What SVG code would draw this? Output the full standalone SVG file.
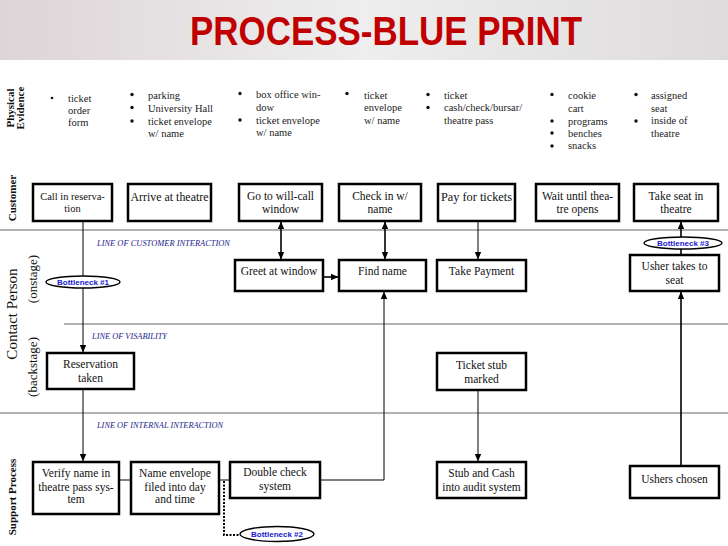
<svg xmlns="http://www.w3.org/2000/svg" width="728" height="546" viewBox="0 0 728 546">
<defs>
<linearGradient id="hdr" x1="0" y1="0" x2="1" y2="0">
<stop offset="0" stop-color="#ddd5d7"/>
<stop offset="0.5" stop-color="#eeeeee"/>
<stop offset="1" stop-color="#dedbdc"/>
</linearGradient>
<marker id="ah" markerWidth="8" markerHeight="8" refX="7" refY="4" orient="auto" markerUnits="userSpaceOnUse">
<path d="M0,0.8 L7.5,4 L0,7.2 Z" fill="#000"/>
</marker>
<marker id="as" markerWidth="8" markerHeight="8" refX="0.5" refY="4" orient="auto" markerUnits="userSpaceOnUse">
<path d="M7.5,0.8 L0,4 L7.5,7.2 Z" fill="#000"/>
</marker>
</defs>
<style>
.box{fill:#fff;stroke:#000;stroke-width:2.5}
.t{font-family:"Liberation Serif",serif;font-size:11.5px;text-anchor:middle;fill:#111}
.tl{font-size:12px}
.ts{font-size:10.5px}
.pe{font-family:"Liberation Serif",serif;font-size:10.5px;fill:#222}
.lane{stroke:#666;stroke-width:1}
.c{stroke:#000;stroke-width:1;fill:none}
.c2{stroke:#000;stroke-width:1.6;fill:none}
.lbl{font-family:"Liberation Serif",serif;font-style:italic;font-size:8px;fill:#1c1c8a}
.bn{fill:#fff;stroke:#000;stroke-width:1.4}
.bt{font-family:"Liberation Sans",sans-serif;font-weight:bold;font-size:8px;fill:#1a1ad0;text-anchor:middle}
.side{font-family:"Liberation Serif",serif;font-size:11px;font-weight:bold;fill:#111;text-anchor:middle}
.side2{font-family:"Liberation Serif",serif;fill:#111;text-anchor:middle}
</style>
<rect x="0" y="0" width="728" height="546" fill="#fff"/>
<rect x="0" y="0" width="728" height="60" fill="url(#hdr)"/>
<text x="386" y="45" font-family="Liberation Sans, sans-serif" font-weight="bold" font-size="40" fill="#c00000" text-anchor="middle" textLength="392" lengthAdjust="spacingAndGlyphs">PROCESS-BLUE PRINT</text>

<g id="lanes">
<line class="lane" x1="0" y1="230" x2="728" y2="230"/>
<line class="lane" x1="64" y1="324" x2="728" y2="324"/>
<line class="lane" x1="0" y1="413" x2="728" y2="413"/>
<text class="lbl" x="97" y="246" textLength="133" lengthAdjust="spacingAndGlyphs">LINE OF CUSTOMER INTERACTION</text>
<text class="lbl" x="92" y="339" textLength="75" lengthAdjust="spacingAndGlyphs">LINE OF VISABILITY</text>
<text class="lbl" x="97" y="428" textLength="126" lengthAdjust="spacingAndGlyphs">LINE OF INTERNAL INTERACTION</text>
</g>

<g id="side-labels">
<text class="side" transform="translate(14,108) rotate(-90)">Physical</text>
<text class="side" transform="translate(24,108) rotate(-90)">Evidence</text>
<text class="side" transform="translate(16,198) rotate(-90)">Customer</text>
<text class="side2" font-size="15" transform="translate(17,314) rotate(-90)">Contact Person</text>
<text class="side2" font-size="13" transform="translate(37,279) rotate(-90)">(onstage)</text>
<text class="side2" font-size="13" transform="translate(37,367) rotate(-90)">(backstage)</text>
<text class="side" transform="translate(16,497) rotate(-90)">Support Process</text>
</g>

<g id="physical-evidence">
<g fill="#111">
<circle cx="52" cy="98" r="1.3"/>
<circle cx="132" cy="94.5" r="1.7"/><circle cx="132" cy="107.5" r="1.7"/><circle cx="132" cy="121" r="1.7"/>
<circle cx="240" cy="93.5" r="1.7"/><circle cx="240" cy="120" r="1.7"/>
<circle cx="347" cy="93.5" r="1.7"/>
<circle cx="428" cy="94.5" r="1.7"/><circle cx="428" cy="107.5" r="1.7"/>
<circle cx="552" cy="94.5" r="1.7"/><circle cx="552" cy="121" r="1.7"/><circle cx="552" cy="133" r="1.7"/><circle cx="552" cy="146" r="1.7"/>
<circle cx="636" cy="94.5" r="1.7"/><circle cx="636" cy="121" r="1.7"/>
</g>
<text class="pe" x="68" y="102">ticket</text>
<text class="pe" x="68" y="114">order</text>
<text class="pe" x="68" y="126">form</text>
<text class="pe" x="148" y="98.5">parking</text>
<text class="pe" x="148" y="111.5">University Hall</text>
<text class="pe" x="148" y="124.5">ticket envelope</text>
<text class="pe" x="148" y="136.5">w/ name</text>
<text class="pe" x="256" y="98">box office win-</text>
<text class="pe" x="256" y="111">dow</text>
<text class="pe" x="256" y="124">ticket envelope</text>
<text class="pe" x="256" y="136">w/ name</text>
<text class="pe" x="364" y="98.5">ticket</text>
<text class="pe" x="364" y="111">envelope</text>
<text class="pe" x="364" y="123.5">w/ name</text>
<text class="pe" x="444" y="98.5">ticket</text>
<text class="pe" x="444" y="111">cash/check/bursar/</text>
<text class="pe" x="444" y="123.5">theatre pass</text>
<text class="pe" x="568" y="98.5">cookie</text>
<text class="pe" x="568" y="111.5">cart</text>
<text class="pe" x="568" y="124.5">programs</text>
<text class="pe" x="568" y="136.5">benches</text>
<text class="pe" x="568" y="149">snacks</text>
<text class="pe" x="651" y="98.5">assigned</text>
<text class="pe" x="651" y="111.5">seat</text>
<text class="pe" x="651" y="124">inside of</text>
<text class="pe" x="651" y="136.5">theatre</text>
</g>

<g id="connectors">
<line class="c" x1="83" y1="221" x2="83" y2="352" marker-end="url(#ah)"/>
<line class="c" x1="83" y1="389" x2="83" y2="461" marker-end="url(#ah)"/>
<line class="c" x1="119" y1="480" x2="131" y2="480"/>
<line class="c" x1="219" y1="480" x2="230" y2="480"/>
<path d="M224,481 V535 H240" fill="none" stroke="#000" stroke-width="2" stroke-dasharray="2,1.5"/>
<path class="c" d="M320,480 H384 V292" marker-end="url(#ah)"/>
<line class="c2" x1="281" y1="222" x2="281" y2="259" marker-start="url(#as)" marker-end="url(#ah)"/>
<line class="c2" x1="385" y1="222" x2="385" y2="259" marker-start="url(#as)" marker-end="url(#ah)"/>
<line class="c2" x1="323" y1="277" x2="338" y2="277" marker-end="url(#ah)"/>
<line class="c" x1="478" y1="221" x2="478" y2="259" marker-end="url(#ah)"/>
<line class="c" x1="478" y1="390" x2="478" y2="461" marker-end="url(#ah)"/>
<line class="c2" x1="681" y1="466" x2="681" y2="292" marker-end="url(#ah)"/>
<line class="c2" x1="681" y1="255" x2="681" y2="222" marker-end="url(#ah)"/>
</g>

<g id="bottleneck1"><ellipse class="bn" cx="83" cy="282" rx="37" ry="6"/><text class="bt" x="83" y="284.8">Bottleneck #1</text></g>
<g id="bottleneck2"><ellipse class="bn" cx="277" cy="534" rx="37" ry="7.5"/><text class="bt" x="277" y="536.8">Bottleneck #2</text></g>
<g id="bottleneck3"><ellipse class="bn" cx="683" cy="243" rx="39" ry="6"/><text class="bt" x="683" y="245.8">Bottleneck #3</text></g>

<g id="call-in"><rect class="box" x="33" y="184" width="79" height="37"/><text class="t ts" x="72.5" y="200">Call in reserva-</text><text class="t ts" x="72.5" y="212">tion</text></g>
<g id="arrive"><rect class="box" x="128" y="184" width="83" height="37"/><text class="t tl" x="169.5" y="201" textLength="78" lengthAdjust="spacingAndGlyphs">Arrive at theatre</text></g>
<g id="will-call"><rect class="box" x="239" y="184" width="83" height="37"/><text class="t" x="280.5" y="200">Go to will-call</text><text class="t" x="280.5" y="213">window</text></g>
<g id="check-in"><rect class="box" x="339" y="184" width="82" height="37"/><text class="t" x="380" y="200">Check in w/</text><text class="t" x="380" y="213">name</text></g>
<g id="pay"><rect class="box" x="438" y="184" width="77" height="37"/><text class="t tl" x="476.5" y="201" textLength="71" lengthAdjust="spacingAndGlyphs">Pay for tickets</text></g>
<g id="wait"><rect class="box" x="536" y="184" width="83" height="37"/><text class="t" x="577.5" y="200">Wait until thea-</text><text class="t" x="577.5" y="213">tre opens</text></g>
<g id="take-seat"><rect class="box" x="634" y="184" width="84" height="37"/><text class="t" x="676" y="200">Take seat in</text><text class="t" x="676" y="213">theatre</text></g>

<g id="greet"><rect class="box" x="235" y="260" width="88" height="31"/><text class="t" x="279" y="275">Greet at window</text></g>
<g id="find-name"><rect class="box" x="339" y="260" width="87" height="31"/><text class="t" x="382.5" y="275">Find name</text></g>
<g id="take-payment"><rect class="box" x="437" y="260" width="89" height="31"/><text class="t" x="481.5" y="275">Take Payment</text></g>
<g id="usher-takes"><rect class="box" x="630" y="255" width="89" height="36"/><text class="t" x="674.5" y="270">Usher takes to</text><text class="t" x="674.5" y="284">seat</text></g>

<g id="reservation-taken"><rect class="box" x="47" y="353" width="87" height="36"/><text class="t" x="90.5" y="368">Reservation</text><text class="t" x="90.5" y="382">taken</text></g>
<g id="ticket-stub"><rect class="box" x="437" y="353" width="89" height="37"/><text class="t" x="481.5" y="369">Ticket stub</text><text class="t" x="481.5" y="383">marked</text></g>

<g id="verify"><rect class="box" x="33" y="462" width="86" height="52"/><text class="t" x="76" y="477">Verify name in</text><text class="t" x="76" y="491">theatre pass sys-</text><text class="t" x="76" y="503">tem</text></g>
<g id="name-envelope"><rect class="box" x="131" y="462" width="88" height="52"/><text class="t" x="175" y="477">Name envelope</text><text class="t" x="175" y="491">filed into day</text><text class="t" x="175" y="503">and time</text></g>
<g id="double-check"><rect class="box" x="230" y="462" width="90" height="36"/><text class="t" x="275" y="476">Double check</text><text class="t" x="275" y="490">system</text></g>
<g id="stub-cash"><rect class="box" x="437" y="462" width="89" height="36"/><text class="t" x="481.5" y="477">Stub and Cash</text><text class="t" x="481.5" y="491">into audit system</text></g>
<g id="ushers-chosen"><rect class="box" x="630" y="466" width="89" height="32"/><text class="t" x="674.5" y="483">Ushers chosen</text></g>
</svg>
